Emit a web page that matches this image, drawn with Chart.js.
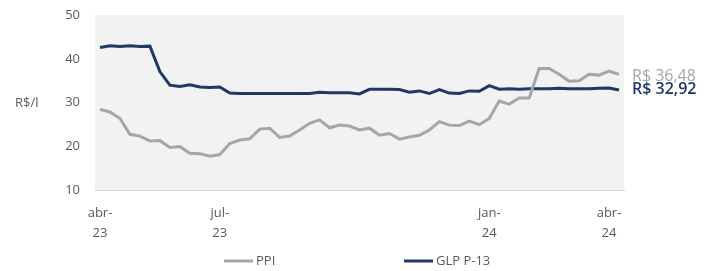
<!DOCTYPE html>
<html>
<head>
<meta charset="utf-8">
<script src="https://cdn.jsdelivr.net/npm/chart.js@4"></script>
<style>
  html, body { margin: 0; padding: 0; background: #fff; }
  #wrap { width: 704px; height: 271px; }
</style>
</head>
<body>
<div id="wrap"><canvas id="myChart" width="704" height="271"></canvas></div>
<script>
// weekly points, abr-23 .. abr-24
const tickLabels = { 0: ["abr-", "23"], 12: ["jul-", "23"], 39: ["jan-", "24"], 51: ["abr-", "24"] };

const ppi = [28.5, 27.9, 26.4, 22.8, 22.4, 21.3, 21.4, 19.8, 20.0, 18.5,
  18.4, 17.8, 18.2, 20.7, 21.5, 21.8, 24.0, 24.2, 22.1, 22.4,
  23.8, 25.3, 26.1, 24.3, 24.9, 24.7, 23.8, 24.2, 22.6, 23.0,
  21.7, 22.2, 22.6, 23.8, 25.7, 24.9, 24.8, 25.8, 25.0, 26.4,
  30.4, 29.7, 31.1, 31.1, 37.8, 37.8, 36.5, 34.9, 35.0, 36.5,
  36.3, 37.2, 36.48];

const glp = [42.6, 43.0, 42.8, 43.0, 42.8, 42.9, 37.1, 34.0, 33.7, 34.1,
  33.6, 33.5, 33.6, 32.2, 32.1, 32.1, 32.1, 32.1, 32.1, 32.1,
  32.1, 32.1, 32.4, 32.3, 32.3, 32.3, 32.0, 33.05, 33.05, 33.05,
  33.0, 32.4, 32.7, 32.1, 33.0, 32.2, 32.1, 32.7, 32.6, 33.9,
  33.1, 33.2, 33.1, 33.2, 33.2, 33.2, 33.3, 33.2, 33.2, 33.2,
  33.3, 33.35, 32.92];

const endLabels = ["R$ 36,48", "R$ 32,92"];
const yUnit = "R$/l";

const labels = ppi.map((v, i) => tickLabels[i] || "");

const FONT = "'Open Sans', 'Noto Sans', sans-serif";
const GRAY = "#a6a6a6";
const NAVY = "#1f3864";
const TEXT = "#595959";

const extras = {
  id: "extras",
  beforeDraw(chart) {
    const { ctx, chartArea: a } = chart;
    ctx.save();
    ctx.fillStyle = "#f2f2f2";
    ctx.fillRect(a.left, a.top, a.right - a.left, a.bottom - a.top);
    ctx.restore();
  },
  afterDraw(chart) {
    const { ctx, chartArea: a, scales } = chart;
    const y = scales.y;
    ctx.save();
    // unit label
    ctx.fillStyle = TEXT;
    ctx.font = "13px " + FONT;
    ctx.textAlign = "left";
    ctx.textBaseline = "middle";
    ctx.fillText(yUnit, 15, y.getPixelForValue(30) + 1);

    // end value labels
    ctx.font = "16px " + FONT;
    ctx.fillStyle = GRAY;
    ctx.fillText(endLabels[0], a.right + 8, y.getPixelForValue(ppi[ppi.length - 1]) + 2);
    ctx.font = "600 16px " + FONT;
    ctx.fillStyle = NAVY;
    ctx.fillText(endLabels[1], a.right + 8, y.getPixelForValue(glp[glp.length - 1]) - 1);

    // legend
    const ly = 261;
    const items = [
      { text: "PPI", color: GRAY, x: 224 },
      { text: "GLP P-13", color: NAVY, x: 404 }
    ];
    ctx.font = "13px " + FONT;
    items.forEach((it) => {
      ctx.strokeStyle = it.color;
      ctx.lineWidth = 3;
      ctx.beginPath();
      ctx.moveTo(it.x, ly);
      ctx.lineTo(it.x + 29, ly);
      ctx.stroke();
      ctx.fillStyle = TEXT;
      ctx.fillText(it.text, it.x + 32, ly);
    });
    ctx.restore();
  }
};

new Chart(document.getElementById("myChart"), {
  type: "line",
  data: {
    labels: labels,
    datasets: [
      { label: "PPI", data: ppi, borderColor: GRAY, backgroundColor: GRAY, borderWidth: 3, pointRadius: 0, tension: 0 },
      { label: "GLP P-13", data: glp, borderColor: NAVY, backgroundColor: NAVY, borderWidth: 3, pointRadius: 0, tension: 0 }
    ]
  },
  options: {
    responsive: false,
    animation: false,
    layout: { padding: { left: 0, right: 80, top: 15, bottom: 0 } },
    plugins: { legend: { display: false }, tooltip: { enabled: false } },
    scales: {
      x: {
        offset: true,
        grid: { display: false, drawTicks: false },
        border: { display: true, color: "#d9d9d9", width: 1 },
        ticks: {
          autoSkip: false, maxRotation: 0, padding: 12, color: TEXT,
          font: { family: FONT, size: 13, lineHeight: 1.6 }
        },
        afterFit: (s) => { s.height = 80.5; }
      },
      y: {
        min: 10, max: 50,
        grid: { display: false, drawTicks: false },
        border: { display: false },
        ticks: { stepSize: 10, padding: 15, color: TEXT, font: { family: FONT, size: 13 } },
        afterFit: (s) => { s.width = 95; s.paddingTop = 0; }
      }
    }
  },
  plugins: [extras]
});
</script>
</body>
</html>
